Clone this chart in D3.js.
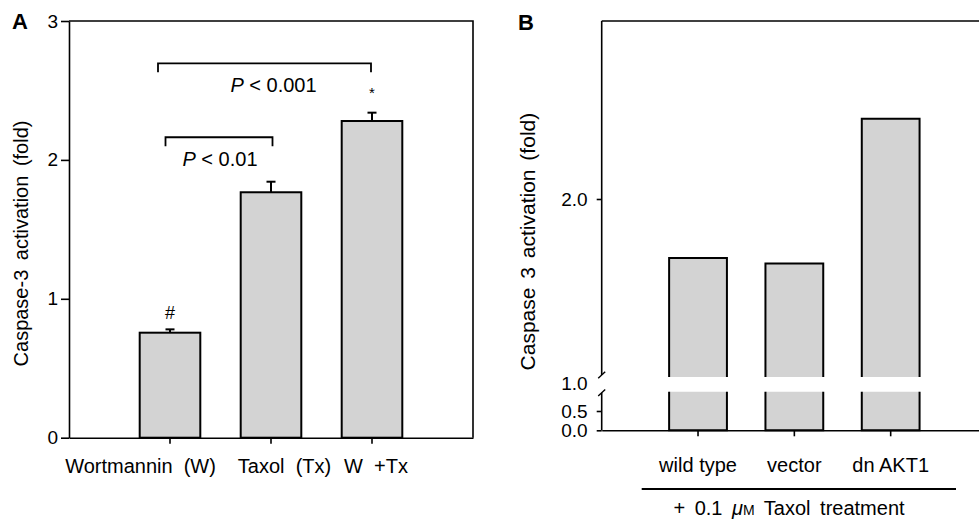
<!DOCTYPE html>
<html>
<head>
<meta charset="utf-8" />
<title>Caspase-3 activation</title>
<style>
body { margin: 0; background: #fff; }
svg text {
  font-family: "Liberation Sans", Arial, sans-serif;
  fill: #000;
}
.axis path, .axis line { stroke: #000; stroke-width: 1.6px; }
.axis text { font-size: 19px; }
.xaxis text { font-size: 20px; }
</style>
<script src="https://cdn.jsdelivr.net/npm/d3@7"></script>
</head>
<body>
<svg class="chart" width="979" height="526"></svg>

<script>

/* ---------- data : panel A ---------- */
var cats_a = ["Wortmannin (W)", "Taxol (Tx)", "W +Tx"];
var vals_a = [0.756, 1.767, 2.280];
var errs_a = [0.024, 0.076, 0.060];
var ticks_a = [0, 1, 2, 3];
var marks_a = ["#", "", "*"];

// significance brackets: [from, to], level, label
var bracket_pairs = [["Wortmannin (W)", "W +Tx"], ["Wortmannin (W)", "Taxol (Tx)"]];
var bracket_levels = [2.695, 2.163];
var bracket_texts = ["< 0.001", "< 0.01"];

/* ---------- data : panel B ---------- */
var cats_b = ["wild type", "vector", "dn AKT1"];
var vals_b = [1.669, 1.637, 2.451];
var ticks_b_low = [0, 0.5];
var ticks_b_up = [2.0];
var break_value = 1.0;

var svg = d3.select(".chart");
var bar_fill = "#d3d3d3";

/****************
 *   Panel A    *
 ****************/
var x_a = d3.scaleBand().domain(cats_a).range([69, 473])
    .paddingInner(0.4).paddingOuter(0.7);
var y_a = d3.scaleLinear().domain([0, 3]).range([437.7, 21]);

var pa = svg.append("g");

// frame (top + right)
pa.append("path")
    .attr("d", "M" + x_a.range()[0] + "," + y_a(3) + "H" + x_a.range()[1] + "V" + y_a(0))
    .attr("fill", "none").attr("stroke", "#000").attr("stroke-width", 1.6);

// bars
pa.selectAll(".bar").data(cats_a).enter().append("rect")
    .attr("class", "bar")
    .attr("x", function(d) { return x_a(d); })
    .attr("width", x_a.bandwidth())
    .attr("y", function(d, i) { return y_a(vals_a[i]); })
    .attr("height", function(d, i) { return y_a(0) - y_a(vals_a[i]); })
    .attr("fill", bar_fill).attr("stroke", "#000").attr("stroke-width", 2);

// error bars (upper only)
var err = pa.selectAll(".err").data(cats_a).enter().append("g").attr("class", "err");
err.append("line")
    .attr("x1", function(d) { return x_a(d) + x_a.bandwidth() / 2; })
    .attr("x2", function(d) { return x_a(d) + x_a.bandwidth() / 2; })
    .attr("y1", function(d, i) { return y_a(vals_a[i]); })
    .attr("y2", function(d, i) { return y_a(vals_a[i] + errs_a[i]); })
    .attr("stroke", "#000").attr("stroke-width", 2);
err.append("line")
    .attr("x1", function(d) { return x_a(d) + x_a.bandwidth() / 2 - 4.5; })
    .attr("x2", function(d) { return x_a(d) + x_a.bandwidth() / 2 + 4.5; })
    .attr("y1", function(d, i) { return y_a(vals_a[i] + errs_a[i]); })
    .attr("y2", function(d, i) { return y_a(vals_a[i] + errs_a[i]); })
    .attr("stroke", "#000").attr("stroke-width", 2);

// # and * marks
pa.selectAll(".mark").data(cats_a).enter().append("text")
    .attr("class", "mark")
    .attr("x", function(d) { return x_a(d) + x_a.bandwidth() / 2; })
    .attr("y", function(d, i) { return y_a(vals_a[i] + errs_a[i]) - (marks_a[i] == "*" ? 15 : 10); })
    .attr("text-anchor", "middle")
    .style("font-size", function(d, i) { return marks_a[i] == "*" ? "15px" : "18px"; })
    .text(function(d, i) { return marks_a[i]; });

// brackets
var nudge = [[-12, -1], [-4.5, 1.5]];
var br = pa.selectAll(".bracket").data(bracket_pairs).enter().append("g").attr("class", "bracket");
br.append("path")
    .attr("d", function(d, i) {
      var x1 = x_a(d[0]) + x_a.bandwidth() / 2 + nudge[i][0];
      var x2 = x_a(d[1]) + x_a.bandwidth() / 2 + nudge[i][1];
      var y = y_a(bracket_levels[i]);
      return "M" + x1 + "," + (y + 9) + "V" + y + "H" + x2 + "V" + (y + 9);
    })
    .attr("fill", "none").attr("stroke", "#000").attr("stroke-width", 1.8);
var bt = br.append("text")
    .attr("x", function(d, i) {
      return (x_a(d[0]) + x_a(d[1])) / 2 + x_a.bandwidth() / 2 + (nudge[i][0] + nudge[i][1]) / 2 + (i == 0 ? 9 : 1);
    })
    .attr("y", function(d, i) { return y_a(bracket_levels[i]) + 29; })
    .attr("text-anchor", "middle")
    .style("font-size", "20px");
bt.append("tspan").style("font-style", "italic").text("P");
bt.append("tspan").text(function(d, i) { return " " + bracket_texts[i]; });

// axes
pa.append("g").attr("class", "axis")
    .attr("transform", "translate(" + x_a.range()[0] + ",0)")
    .call(d3.axisLeft(y_a).tickValues(ticks_a).tickFormat(d3.format("d"))
      .tickSize(8).tickPadding(3).tickSizeOuter(0));

var label_dx_a = [-29.5, 13.5, 4];
var xa_axis = pa.append("g").attr("class", "axis xaxis")
    .attr("transform", "translate(0," + y_a(0) + ")")
    .call(d3.axisBottom(x_a).tickSize(6).tickPadding(15).tickSizeOuter(0)
      .tickFormat(function(d) { return d.replace(" ", "\u00a0 "); }));
xa_axis.selectAll(".tick text")
    .attr("dx", function(d, i) { return label_dx_a[i]; });

pa.append("text")
    .attr("transform", "translate(28,243.5) rotate(-90)")
    .attr("text-anchor", "middle")
    .style("font-size", "20px")
    .style("word-spacing", "4px")
    .text("Caspase-3 activation (fold)");

pa.append("text")
    .attr("x", 12).attr("y", 29)
    .style("font-size", "22px").style("font-weight", "bold")
    .text("A");

/****************
 *   Panel B    *
 ****************/
var x_b = d3.scaleBand().domain(cats_b).range([601.7, 987])
    .paddingInner(0.4).paddingOuter(0.7);
var y_b_low = d3.scaleLinear().domain([0, break_value]).range([430.3, 391.7]);
var y_b_up = d3.scaleLinear().domain([break_value, 3]).range([377, 21]);
var ax_b = x_b.range()[0];

var pb = svg.append("g");

// top frame line
pb.append("line")
    .attr("x1", ax_b).attr("x2", x_b.range()[1])
    .attr("y1", y_b_up(3)).attr("y2", y_b_up(3))
    .attr("stroke", "#000").attr("stroke-width", 1.6);

// bars, split at the axis break
var bb = pb.selectAll(".bar").data(cats_b).enter().append("g").attr("class", "bar");
bb.append("path")
    .attr("d", function(d, i) {
      var x0 = x_b(d), x1 = x_b(d) + x_b.bandwidth();
      return "M" + x0 + "," + y_b_up(break_value) + "V" + y_b_up(vals_b[i]) +
             "H" + x1 + "V" + y_b_up(break_value);
    })
    .attr("fill", bar_fill).attr("stroke", "#000").attr("stroke-width", 2);
bb.append("path")
    .attr("d", function(d, i) {
      var x0 = x_b(d), x1 = x_b(d) + x_b.bandwidth();
      return "M" + x0 + "," + y_b_low(break_value) + "V" + y_b_low(0) +
             "H" + x1 + "V" + y_b_low(break_value);
    })
    .attr("fill", bar_fill).attr("stroke", "#000").attr("stroke-width", 2);

// y axis, two segments
var yb_up = pb.append("g").attr("class", "axis")
    .attr("transform", "translate(" + ax_b + ",0)")
    .call(d3.axisLeft(y_b_up).tickValues(ticks_b_up).tickFormat(d3.format(".1f"))
      .tickSize(5).tickPadding(9).tickSizeOuter(0));
yb_up.select(".domain").remove();
var yb_low = pb.append("g").attr("class", "axis")
    .attr("transform", "translate(" + ax_b + ",0)")
    .call(d3.axisLeft(y_b_low).tickValues(ticks_b_low).tickFormat(d3.format(".1f"))
      .tickSize(5).tickPadding(9).tickSizeOuter(0));
yb_low.select(".domain").remove();

pb.append("line")
    .attr("x1", ax_b).attr("x2", ax_b)
    .attr("y1", y_b_up(3)).attr("y2", y_b_up(break_value) - 2)
    .attr("stroke", "#000").attr("stroke-width", 1.6);
pb.append("line")
    .attr("x1", ax_b).attr("x2", ax_b)
    .attr("y1", y_b_low(break_value) + 1).attr("y2", y_b_low(0))
    .attr("stroke", "#000").attr("stroke-width", 1.6);

// break slashes
[y_b_up(break_value) - 2, y_b_low(break_value) + 1].forEach(function(yy) {
  pb.append("line")
      .attr("x1", ax_b - 3.5).attr("x2", ax_b + 3.5)
      .attr("y1", yy + 3.3).attr("y2", yy - 3.3)
      .attr("stroke", "#000").attr("stroke-width", 1.4);
});

// label at the break
pb.append("text")
    .attr("x", ax_b - 14).attr("y", (y_b_up(break_value) + y_b_low(break_value)) / 2)
    .attr("dy", "0.32em")
    .attr("text-anchor", "end")
    .style("font-size", "19px")
    .text(d3.format(".1f")(break_value));

// x axis
pb.append("g").attr("class", "axis xaxis")
    .attr("transform", "translate(0," + y_b_low(0) + ")")
    .call(d3.axisBottom(x_b).tickSize(6).tickPadding(22).tickSizeOuter(0));

// treatment line + text
pb.append("line")
    .attr("x1", 641.7).attr("x2", 956)
    .attr("y1", 489).attr("y2", 489)
    .attr("stroke", "#000").attr("stroke-width", 2);
var tt = pb.append("text")
    .attr("x", 789).attr("y", 515)
    .attr("text-anchor", "middle")
    .style("font-size", "20px")
    .style("word-spacing", "4px");
tt.append("tspan").text("+ 0.1 ");
tt.append("tspan").style("font-style", "italic").text("\u03bc");
tt.append("tspan").style("font-size", "14px").text("M");
tt.append("tspan").text(" Taxol treatment");

pb.append("text")
    .attr("transform", "translate(534.5,241.6) rotate(-90)")
    .attr("text-anchor", "middle")
    .style("font-size", "21px")
    .style("word-spacing", "3px")
    .text("Caspase 3 activation (fold)");

pb.append("text")
    .attr("x", 518).attr("y", 30)
    .style("font-size", "22px").style("font-weight", "bold")
    .text("B");

</script>
</body>
</html>
